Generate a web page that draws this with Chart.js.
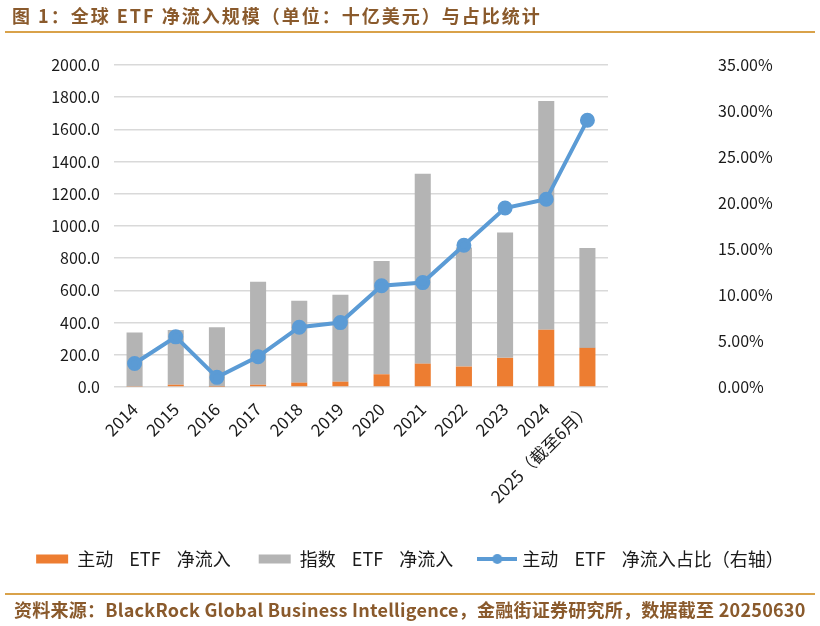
<!DOCTYPE html>
<html>
<head>
<meta charset="utf-8">
<script src="https://cdn.jsdelivr.net/npm/chart.js@4/dist/chart.umd.min.js"></script>
<style>
  html, body { margin: 0; padding: 0; background: #fff; }
  #wrap { position: relative; width: 820px; height: 626px; overflow: hidden; }
  #chart { position: absolute; left: 0; top: 0; }
  .title {
    position: absolute; left: 12px; top: 2px; letter-spacing: 2px;
    font: bold 18px "Noto Sans CJK SC", sans-serif; color: #8a5a2c;
  }
  .rule { position: absolute; left: 5px; width: 810px; height: 0; border-top: 2px solid #d9a24a; }
  .source {
    position: absolute; left: 14px; top: 596px; letter-spacing: 0.25px;
    font: bold 18px "Noto Sans CJK SC", sans-serif; color: #8a5a2c;
  }
</style>
</head>
<body>
<div id="wrap">
  <canvas id="chart" width="820" height="626"></canvas>
  <div class="title">图 1：全球 ETF 净流入规模（单位：十亿美元）与占比统计</div>
  <div class="rule" style="top:31px"></div>
  <div class="rule" style="top:593px"></div>
  <div class="source">资料来源：BlackRock Global Business Intelligence，金融街证券研究所，数据截至 20250630</div>
</div>
<script>
const years = ['2014', '2015', '2016', '2017', '2018', '2019', '2020', '2021', '2022', '2023', '2024', '2025（截至6月）'];
// 十亿美元
const activeFlow = [3, 14, 2, 14, 27, 33, 79, 145, 127, 181, 355, 243];
const indexFlow = [336, 340, 369, 640, 509, 540, 704, 1180, 739, 779, 1421, 621];
// 主动 ETF 占比 (%)
const activeShare = [2.55, 5.45, 1.05, 3.3, 6.5, 7.0, 11.0, 11.35, 15.4, 19.45, 20.4, 29.0];
const leftTicks = { min: 0, max: 2000, step: 200 };
const rightTicks = { min: 0, max: 35, step: 5 };

const font = '"Noto Sans CJK SC", sans-serif';

// legend icon for the line series: line with a dot
const lineIcon = document.createElement('canvas');
lineIcon.width = 40; lineIcon.height = 12;
(() => {
    const c = lineIcon.getContext('2d');
    c.strokeStyle = '#5b9bd5'; c.lineWidth = 4;
    c.beginPath(); c.moveTo(0, 6); c.lineTo(40, 6); c.stroke();
    c.fillStyle = '#5b9bd5';
    c.beginPath(); c.arc(20, 6, 5, 0, Math.PI * 2); c.fill();
})();

new Chart(document.getElementById('chart'), {
    data: {
        labels: years,
        datasets: [
            {
                type: 'bar', label: '主动    ETF    净流入', data: activeFlow,
                backgroundColor: '#ed7d31', yAxisID: 'y', order: 1,
                barPercentage: 0.39, categoryPercentage: 1
            },
            {
                type: 'bar', label: '指数    ETF    净流入', data: indexFlow,
                backgroundColor: '#b4b4b4', yAxisID: 'y', order: 1,
                barPercentage: 0.39, categoryPercentage: 1
            },
            {
                type: 'line', label: '主动    ETF    净流入占比（右轴）', data: activeShare,
                borderColor: '#5b9bd5', backgroundColor: '#5b9bd5', borderWidth: 4,
                pointRadius: 5.5, pointHoverRadius: 5.5, pointBackgroundColor: '#5b9bd5',
                tension: 0, yAxisID: 'y1', order: 0
            }
        ]
    },
    options: {
        responsive: false,
        animation: false,
        layout: { padding: { top: 65, left: 0, right: 0, bottom: 48 } },
        plugins: {
            tooltip: { enabled: false },
            legend: {
                position: 'bottom',
                labels: {
                    font: { family: font, size: 18 },
                    color: '#1a1a1a',
                    usePointStyle: true,
                    pointStyleWidth: 32,
                    boxHeight: 9,
                    padding: 28,
                    generateLabels(chart) {
                        const items = Chart.defaults.plugins.legend.labels.generateLabels(chart);
                        items.sort((a, b) => a.datasetIndex - b.datasetIndex);
                        items.forEach(it => {
                            it.lineWidth = 0;
                            it.pointStyle = it.datasetIndex === 2 ? lineIcon : 'rect';
                        });
                        return items;
                    }
                }
            }
        },
        scales: {
            x: {
                stacked: true,
                grid: { display: false },
                border: { display: false },
                ticks: {
                    font: { family: font, size: 17 }, color: '#1a1a1a',
                    minRotation: 45, maxRotation: 45, padding: 4
                },
                afterFit: s => { s.height = 135; }
            },
            y: {
                stacked: true, position: 'left',
                min: leftTicks.min, max: leftTicks.max,
                grid: { color: '#d9d9d9', lineWidth: 1.5, drawTicks: false },
                border: { display: false },
                ticks: {
                    stepSize: leftTicks.step, padding: 14,
                    font: { family: font, size: 16 }, color: '#1a1a1a',
                    callback: v => v.toFixed(1)
                },
                afterFit: s => { s.width = 114; s.paddingTop = 8; s.paddingBottom = 8; }
            },
            y1: {
                position: 'right',
                min: rightTicks.min, max: rightTicks.max,
                grid: { display: false, drawTicks: false },
                border: { display: false },
                ticks: {
                    stepSize: rightTicks.step, padding: 110,
                    font: { family: font, size: 16 }, color: '#1a1a1a',
                    callback: v => v.toFixed(2) + '%'
                },
                afterFit: s => { s.width = 212; s.paddingTop = 8; s.paddingBottom = 8; }
            }
        }
    }
});
</script>
</body>
</html>
